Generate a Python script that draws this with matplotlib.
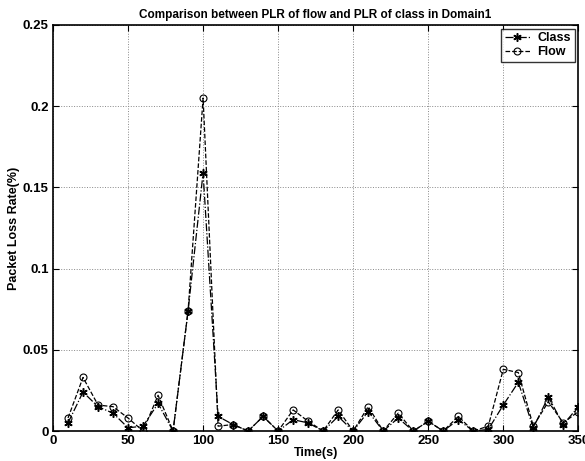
import matplotlib
matplotlib.use("Agg")
import matplotlib.pyplot as plt

plt.rcParams["font.family"] = ["Liberation Sans", "DejaVu Sans"]

time_s = list(range(10, 360, 10))
plr_class = [0.005, 0.024, 0.015, 0.011, 0.002, 0.003, 0.017, 0.000, 0.074, 0.159,
             0.009, 0.004, 0.000, 0.009, 0.000, 0.007, 0.005, 0.000, 0.009, 0.000,
             0.012, 0.000, 0.008, 0.000, 0.006, 0.000, 0.007, 0.000, 0.001, 0.016,
             0.030, 0.002, 0.021, 0.004, 0.015]
plr_flow = [0.008, 0.033, 0.016, 0.015, 0.008, 0.000, 0.022, 0.000, 0.074, 0.205,
            0.003, 0.004, 0.000, 0.009, 0.000, 0.013, 0.006, 0.000, 0.013, 0.000,
            0.015, 0.000, 0.011, 0.000, 0.006, 0.000, 0.009, 0.000, 0.003, 0.038,
            0.036, 0.003, 0.018, 0.005, 0.012]
x_ticks = [0, 50, 100, 150, 200, 250, 300, 350]
y_ticks = [0, 0.05, 0.1, 0.15, 0.2, 0.25]
y_labels = ["0", "0.05", "0.1", "0.15", "0.2", "0.25"]

fig = plt.figure(figsize=(5.85, 4.61), dpi=100)
ax = fig.add_axes([0.0906, 0.065, 0.898, 0.881])

ax.plot(time_s, plr_class, color="black", linestyle="-.", linewidth=0.9,
        marker=(6, 2, 0), markersize=6, markeredgewidth=1.1, label="Class")
ax.plot(time_s, plr_flow, color="black", linestyle="--", linewidth=0.9,
        marker="o", markersize=5, markerfacecolor="none", markeredgewidth=0.8,
        label="Flow")

ax.set_xlim(0, 350)
ax.set_ylim(0, 0.25)
ax.set_xticks(x_ticks)
ax.set_yticks(y_ticks)
ax.set_yticklabels(y_labels)
ax.tick_params(direction="in", top=True, right=True, labelsize=9.5, length=4, pad=3)
for lbl in ax.get_xticklabels() + ax.get_yticklabels():
    lbl.set_fontweight("bold")
ax.grid(True, linestyle=":", color="#888888", linewidth=0.7)
for s in ax.spines.values():
    s.set_linewidth(1.2)

ax.set_xlabel("Time(s)", fontsize=9, fontweight="bold", labelpad=0)
ax.set_ylabel("Packet Loss Rate(%)", fontsize=9, fontweight="bold", labelpad=2)
ax.set_title("Comparison between PLR of flow and PLR of class in Domain1",
             fontsize=8.5, fontweight="bold", pad=5)

leg = ax.legend(loc="upper right", fontsize=9, frameon=True, fancybox=False,
                handlelength=2.0, borderaxespad=0.3, borderpad=0.3,
                labelspacing=0.15, handletextpad=0.6)
leg.get_frame().set_edgecolor("black")
leg.get_frame().set_linewidth(1.0)
for t in leg.get_texts():
    t.set_fontweight("bold")

fig.savefig("out.png", dpi=100)
